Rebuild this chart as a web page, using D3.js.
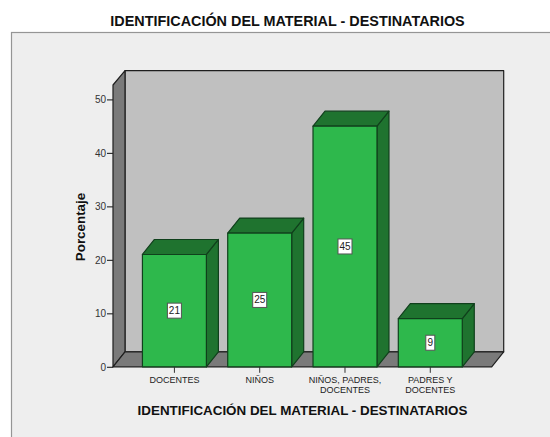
<!DOCTYPE html>
<html><head><meta charset="utf-8">
<script src="https://cdn.jsdelivr.net/npm/d3@7"></script>
<style>
html,body{margin:0;padding:0;background:#fff}
svg{display:block}
text{font-family:"Liberation Sans",Arial,sans-serif}
</style></head><body>
<svg id="c" width="550" height="437"></svg>
<script>
const categories = ["DOCENTES", "NIÑOS", "NIÑOS, PADRES,|DOCENTES", "PADRES Y|DOCENTES"];
const percentages = [21, 25, 45, 9];
const yTicks = [0, 10, 20, 30, 40, 50];
const chartTitle = "IDENTIFICACIÓN DEL MATERIAL - DESTINATARIOS";
const xTitle = "IDENTIFICACIÓN DEL MATERIAL - DESTINATARIOS";
const yTitle = "Porcentaje";

const svg = d3.select("#c");
const L = 113, R = 491.7, B = 366.8, T = 85;
const dx = 12, dy = 15;
const edge = "#1e1e1e", barEdge = "#10401c";

svg.append("rect").attr("x", 11.5).attr("y", 32.5).attr("width", 560).attr("height", 420)
  .attr("fill", "#eeeeee").attr("stroke", "#959595").attr("stroke-width", 1.2);

svg.append("text").attr("x", 287.5).attr("y", 26).attr("text-anchor", "middle")
  .attr("font-size", 14.4).attr("font-weight", "bold").attr("fill", "#111").text(chartTitle);

const y = d3.scaleLinear().domain([0, 50]).range([B, 99.4]);
const x = d3.scaleBand().domain(categories).range([L, R]).paddingInner(0.25).paddingOuter(0.345);

const poly = (pts, fill, stroke) => svg.append("polygon")
  .attr("points", pts.map(p => p.join(",")).join(" "))
  .attr("fill", fill).attr("stroke", stroke).attr("stroke-width", 1.2).attr("stroke-linejoin", "round");

// back wall, side wall, floor
poly([[L+dx,T-dy+0.7],[R+dx,T-dy+0.7],[R+dx,B-dy],[L+dx,B-dy]], "#c0c0c0", edge);
poly([[L,T],[L+dx,T-dy+0.7],[L+dx,B-dy],[L,B]], "#7a7a7a", edge);
poly([[L,B],[L+dx,B-dy],[R+dx,B-dy],[R,B]], "#7a7a7a", edge);

// bars
categories.forEach((c, i) => {
  const x0 = x(c), w = x.bandwidth(), yt = y(percentages[i]);
  poly([[x0+w,yt],[x0+w+dx,yt-dy],[x0+w+dx,B-dy],[x0+w,B]], "#1f732f", barEdge);
  poly([[x0,yt],[x0+dx,yt-dy],[x0+w+dx,yt-dy],[x0+w,yt]], "#1f732f", barEdge);
  poly([[x0,yt],[x0+w,yt],[x0+w,B],[x0,B]], "#2eb84c", barEdge);
});

// value labels
categories.forEach((c, i) => {
  const cx = x(c) + x.bandwidth()/2, cy = (y(percentages[i]) + B)/2;
  const bw = String(percentages[i]).length > 1 ? 14 : 9;
  svg.append("rect").attr("x", cx-bw/2).attr("y", cy-7.5).attr("width", bw).attr("height", 15)
    .attr("fill", "#fff").attr("stroke", "#555").attr("stroke-width", 1);
  svg.append("text").attr("x", cx).attr("y", cy+3.5).attr("text-anchor", "middle")
    .attr("font-size", 10).attr("fill", "#222").text(percentages[i]);
});

// y axis
const yAxis = d3.axisLeft(y).tickValues(yTicks).tickSize(6).tickPadding(1).tickSizeOuter(0);
const gy = svg.append("g").attr("transform", `translate(${L},0)`).call(yAxis);
gy.select(".domain").remove();
gy.selectAll("line").attr("stroke", "#222").attr("stroke-width", 1.1);
gy.selectAll("text").attr("font-size", 10).attr("fill", "#333")
  .style("font-family", '"Liberation Sans",Arial,sans-serif');

// x axis
const xAxis = d3.axisBottom(x).tickSize(6).tickSizeOuter(0).tickFormat("");
const gx = svg.append("g").attr("transform", `translate(0,${B})`).call(xAxis);
gx.select(".domain").remove();
gx.selectAll("line").attr("stroke", "#333").attr("stroke-width", 1);
categories.forEach(c => {
  c.split("|").forEach((ln, j) => {
    svg.append("text").attr("x", x(c) + x.bandwidth()/2).attr("y", B + 16 + j*10)
      .attr("text-anchor", "middle").attr("font-size", 9).attr("fill", "#222").text(ln);
  });
});

svg.append("text").attr("x", 302.5).attr("y", 415).attr("text-anchor", "middle")
  .attr("font-size", 13.4).attr("font-weight", "bold").attr("fill", "#111").text(xTitle);
svg.append("text").attr("transform", "translate(85,227) rotate(-90)").attr("text-anchor", "middle")
  .attr("font-size", 13.4).attr("font-weight", "bold").attr("fill", "#111").text(yTitle);
</script>
</body></html>
